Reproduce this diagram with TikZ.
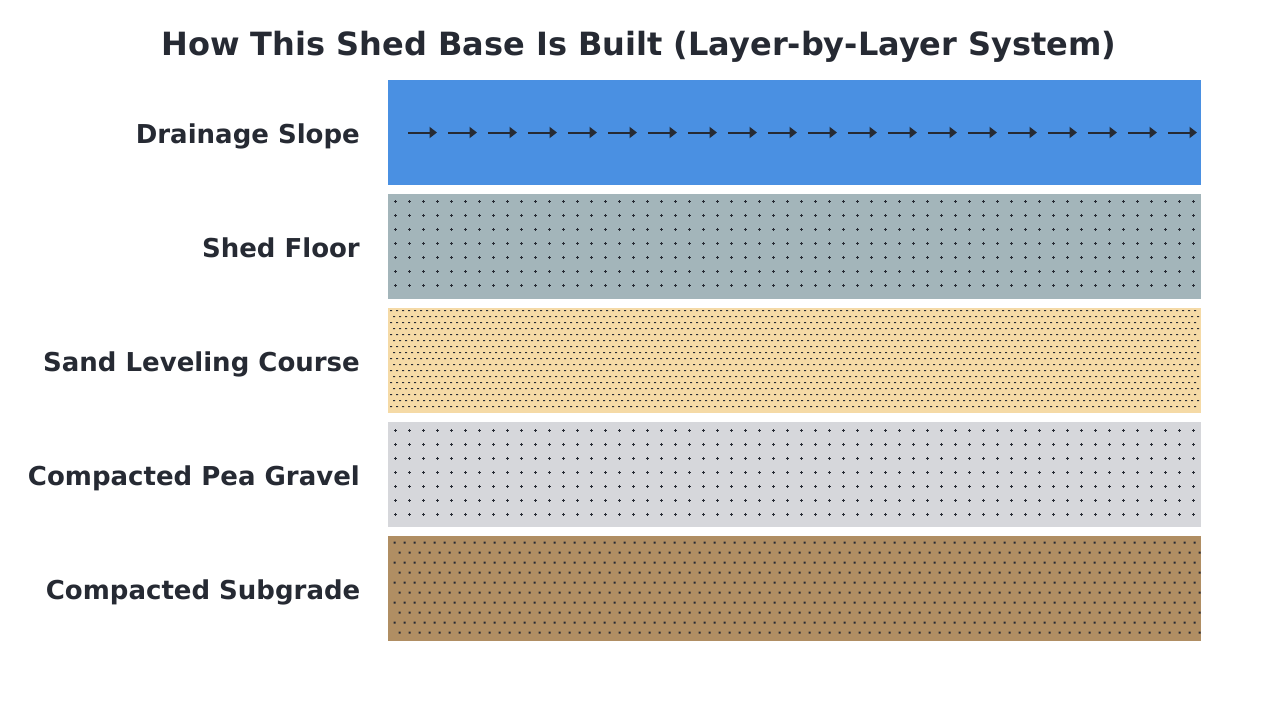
\documentclass[tikz,border=0pt]{standalone}
\usepackage{fontspec}
\setmainfont{DejaVu Sans}
\usetikzlibrary{arrows.meta}
\definecolor{ink}{HTML}{262A33}
\definecolor{drainblue}{HTML}{4A90E2}
\definecolor{floorgrey}{HTML}{A3B5BA}
\definecolor{sandtan}{HTML}{F5DAA6}
\definecolor{gravelgrey}{HTML}{D6D7DB}
\definecolor{subbrown}{HTML}{B08E63}
\tikzset{
  layerlabel/.style={anchor=base east, text=ink, font=\fontsize{26}{30}\selectfont\bfseries, inner sep=0pt},
  titletext/.style={anchor=base, text=ink, font=\fontsize{32}{38}\selectfont\bfseries, inner sep=0pt},
  flowarrow/.style={draw=ink, line width=2pt, -{Triangle[length=7.5pt,width=11pt]}},
  plusmark/.style={draw=ink, line width=1pt}
}
\begin{document}
\begin{tikzpicture}[x=1pt,y=-1pt]
\useasboundingbox (0,0) rectangle (1280,720);
\fill[white] (0,0) rectangle (1280,720);

\node[titletext] (title) at (639,55) {How This Shed Base Is Built (Layer-by-Layer System)};

% Drainage slope
\fill[drainblue] (388,80) rectangle (1201,185);
\foreach \i in {0,...,19}
  \draw[flowarrow] ({408+40*\i},132.5) -- ++(29,0);
\node[layerlabel] (l1) at (360,143) {Drainage Slope};

% Shed floor
\fill[floorgrey] (388,194) rectangle (1201,299);
\begin{scope}
\clip (388,194) rectangle (1201,299);
\path[plusmark] \foreach \i in {0,...,57} { \foreach \j in {0,...,6} {
  ({395.5+14*\i-1.5},{201.5+14*\j}) -- ++(3,0)
  ({395.5+14*\i},{201.5+14*\j-1.5}) -- ++(0,3) } };
\end{scope}
\node[layerlabel] (l2) at (360,257) {Shed Floor};

% Sand leveling course
\fill[sandtan] (388,308) rectangle (1201,413);
\begin{scope}
\clip (388,308) rectangle (1201,413);
\fill[ink] \foreach \j in {0,...,16} { \foreach \i in {0,...,134} {
  ({390+6*\i+3*mod(\j,2)},{310+6*\j}) rectangle ++(2,1) } };
\end{scope}
\node[layerlabel] (l3) at (360,371) {Sand Leveling Course};

% Compacted pea gravel
\fill[gravelgrey] (388,422) rectangle (1201,527);
\begin{scope}
\clip (388,422) rectangle (1201,527);
\path[plusmark] \foreach \i in {0,...,57} { \foreach \j in {0,...,6} {
  ({395.5+14*\i-1.5},{430.5+14*\j}) -- ++(3,0)
  ({395.5+14*\i},{430.5+14*\j-1.5}) -- ++(0,3) } };
\end{scope}
\node[layerlabel] (l4) at (360,485) {Compacted Pea Gravel};

% Compacted subgrade
\fill[subbrown] (388,536) rectangle (1201,641);
\begin{scope}
\clip (388,536) rectangle (1201,641);
\fill[ink] \foreach \j in {0,...,9} { \foreach \i in {0,...,80} {
  ({393.5+10*\i+5*mod(\j,2)},{541.5+10*\j}) rectangle ++(2,2) } };
\end{scope}
\node[layerlabel] (l5) at (360.5,599) {Compacted Subgrade};
\end{tikzpicture}
\end{document}
